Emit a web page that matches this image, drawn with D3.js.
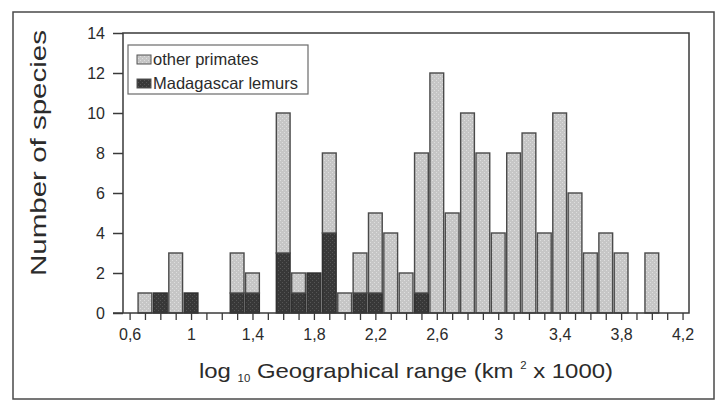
<!DOCTYPE html>
<html>
<head>
<meta charset="utf-8">
<script src="https://cdn.jsdelivr.net/npm/d3@7"></script>
<style>
	body { margin: 0; background: #fff; }
	text { font-family: "Liberation Sans", Arial, sans-serif; fill: #2b2b2b; }
</style>
</head>
<body>
<div class="range-plot"></div>
<script>
// bin centres (log10 range), counts per bin
const binCenters = [0.7, 0.8, 0.9, 1.0, 1.3, 1.4, 1.6, 1.7, 1.8, 1.9, 2.0, 2.1, 2.2, 2.3, 2.4, 2.5,
	2.6, 2.7, 2.8, 2.9, 3.0, 3.1, 3.2, 3.3, 3.4, 3.5, 3.6, 3.7, 3.8, 4.0];
const lemurs = [0, 1, 0, 1, 1, 1, 3, 1, 2, 4, 0, 1, 1, 0, 0, 1,
	0, 0, 0, 0, 0, 0, 0, 0, 0, 0, 0, 0, 0, 0];
const otherPrimates = [1, 0, 3, 0, 2, 1, 7, 1, 0, 4, 1, 2, 4, 4, 2, 7,
	12, 5, 10, 8, 4, 8, 9, 4, 10, 6, 3, 4, 3, 3];
const yTicks = [0, 2, 4, 6, 8, 10, 12, 14];
const xLabelTicks = [0.6, 1.0, 1.4, 1.8, 2.2, 2.6, 3.0, 3.4, 3.8, 4.2];
const seriesNames = ["other primates", "Madagascar lemurs"];

const width = 716;
const height = 401;
const plotLeft = 123, plotRight = 689, plotTop = 33, plotBottom = 313;

const svg = d3.select('.range-plot')
	.append('svg')
	.attr('width', width)
	.attr('height', height)

// halftone-ish fills like the printed figure
const defs = svg.append('defs');
function stipple(id, base, dot) {
	let p = defs.append('pattern')
		.attr('id', id)
		.attr('width', 4)
		.attr('height', 4)
		.attr('patternUnits', 'userSpaceOnUse');
	p.append('rect').attr('width', 4).attr('height', 4).attr('fill', base);
	p.append('rect').attr('x', 0).attr('y', 0).attr('width', 1).attr('height', 1).attr('fill', dot);
	p.append('rect').attr('x', 2).attr('y', 2).attr('width', 1).attr('height', 1).attr('fill', dot);
}
stipple('lightFill', '#c6c6c6', '#dedede');
stipple('darkFill', '#383838', '#555555');

// outer frame
svg.append('rect')
	.attr('x', 13).attr('y', 12)
	.attr('width', 701).attr('height', 387)
	.attr('fill', 'none')
	.attr('stroke', '#4a4a4a')
	.attr('stroke-width', 1.5);

const x = d3.scaleLinear().domain([0.557, 4.242]).range([plotLeft, plotRight]);
const y = d3.scaleLinear().domain([0, 14]).range([plotBottom, plotTop]);

const bins = binCenters.map(function(c, i) {
	return {c: c, lemur: lemurs[i], other: otherPrimates[i]};
});

// lemur part at the bottom
svg.selectAll('.lemurBar')
	.data(bins.filter(d => d.lemur > 0))
	.enter()
	.append('rect')
	.attr('x', d => x(d.c - 0.05) + 0.8)
	.attr('width', d => x(d.c + 0.05) - x(d.c - 0.05) - 1.6)
	.attr('y', d => y(d.lemur))
	.attr('height', d => y(0) - y(d.lemur))
	.attr('fill', 'url(#darkFill)')
	.attr('stroke', '#303030')
	.attr('stroke-width', 1.4);

// other primates stacked on top
svg.selectAll('.otherBar')
	.data(bins.filter(d => d.other > 0))
	.enter()
	.append('rect')
	.attr('x', d => x(d.c - 0.05) + 0.8)
	.attr('width', d => x(d.c + 0.05) - x(d.c - 0.05) - 1.6)
	.attr('y', d => y(d.lemur + d.other))
	.attr('height', d => y(d.lemur) - y(d.lemur + d.other))
	.attr('fill', 'url(#lightFill)')
	.attr('stroke', '#4a4a4a')
	.attr('stroke-width', 1.4);

// plot box
svg.append('rect')
	.attr('x', plotLeft).attr('y', plotTop)
	.attr('width', plotRight - plotLeft).attr('height', plotBottom - plotTop)
	.attr('fill', 'none')
	.attr('stroke', '#3a3a3a')
	.attr('stroke-width', 1.5);

const fmt = d => d3.format('~g')(+d.toFixed(1)).replace('.', ',');

// y axis
svg.append('g')
	.attr('transform', `translate(${plotLeft},0)`)
	.call(d3.axisLeft(y).tickValues(yTicks).tickSize(10).tickPadding(8).tickFormat(d3.format('d')))
	.call(g => g.select('.domain').remove())
	.call(g => g.selectAll('line').attr('stroke', '#3a3a3a').attr('stroke-width', 1.5))
	.call(g => g.selectAll('text').attr('font-size', '16px').attr('fill', '#2b2b2b')
		.attr('font-family', '"Liberation Sans", Arial, sans-serif'));

// x axis: minor ticks every 0.1, labels every 0.4
const minorTicks = d3.range(6, 43).map(v => v / 10);
svg.append('g')
	.attr('transform', `translate(0,${plotBottom})`)
	.call(d3.axisBottom(x).tickValues(minorTicks).tickSize(7).tickFormat(''))
	.call(g => g.select('.domain').remove())
	.call(g => g.selectAll('line').attr('stroke', '#3a3a3a').attr('stroke-width', 1.3));

svg.append('g')
	.attr('transform', `translate(0,${plotBottom})`)
	.call(d3.axisBottom(x).tickValues(xLabelTicks).tickSize(0).tickPadding(16).tickFormat(fmt))
	.call(g => g.select('.domain').remove())
	.call(g => g.selectAll('text').attr('font-size', '16px').attr('fill', '#2b2b2b')
		.attr('font-family', '"Liberation Sans", Arial, sans-serif'));

// x baseline sticks out left like a tick
svg.append('line')
	.attr('x1', plotLeft - 10).attr('x2', plotLeft)
	.attr('y1', plotBottom).attr('y2', plotBottom)
	.attr('stroke', '#3a3a3a').attr('stroke-width', 1.5);

// axis titles
let xTitle = svg.append('text')
	.attr('x', (plotLeft + plotRight) / 2)
	.attr('y', 378)
	.attr('text-anchor', 'middle')
	.attr('font-size', '21px')
	.attr('textLength', 414)
	.attr('lengthAdjust', 'spacingAndGlyphs');
xTitle.append('tspan').text('log ');
xTitle.append('tspan').attr('font-size', '10px').attr('dy', 4).text('10');
xTitle.append('tspan').attr('dy', -4).text(' Geographical range (km ');
xTitle.append('tspan').attr('font-size', '10px').attr('dy', -9).text('2');
xTitle.append('tspan').attr('dy', 9).text(' x 1000)');

svg.append('text')
	.attr('transform', `translate(46,153) rotate(-90)`)
	.attr('text-anchor', 'middle')
	.attr('font-size', '22px')
	.attr('textLength', 246)
	.attr('lengthAdjust', 'spacingAndGlyphs')
	.text('Number of species');

// legend
const legend = svg.append('g');
legend.append('rect')
	.attr('x', 128).attr('y', 45)
	.attr('width', 180).attr('height', 49)
	.attr('fill', '#fff')
	.attr('stroke', '#6a6a6a')
	.attr('stroke-width', 1.2);

legend.selectAll('.swatch')
	.data(seriesNames)
	.enter()
	.append('rect')
	.attr('x', 137)
	.attr('y', (d, i) => 55 + i * 24)
	.attr('width', 14)
	.attr('height', 9)
	.attr('fill', (d, i) => i == 0 ? 'url(#lightFill)' : 'url(#darkFill)')
	.attr('stroke', '#555')
	.attr('stroke-width', 1);

legend.selectAll('.label')
	.data(seriesNames)
	.enter()
	.append('text')
	.attr('x', 153)
	.attr('y', (d, i) => 65 + i * 24)
	.attr('font-size', '16.5px')
	.text(d => d);
</script>
</body>
</html>
